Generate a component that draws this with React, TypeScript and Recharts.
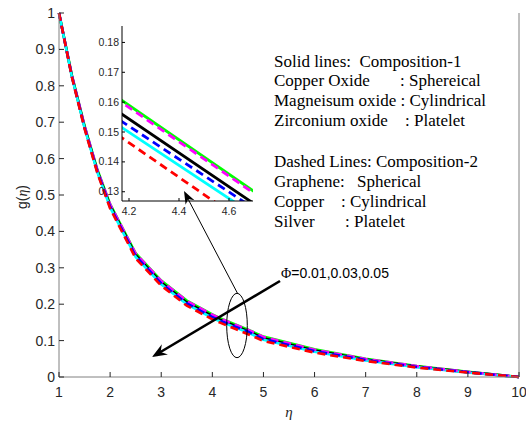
import React from 'react';
import { LineChart, Line, XAxis, YAxis } from 'recharts';

// ---- data ----
const eta = [1, 1.25, 1.5, 1.75, 2, 2.5, 3, 3.5, 4, 4.15, 4.7, 5, 6, 7, 8, 9, 10];
const gGreen = [1, 0.83, 0.69, 0.57, 0.475, 0.34, 0.265, 0.21, 0.172, 0.1618, 0.1301, 0.111, 0.076, 0.05, 0.03, 0.014, 0];
const gMagenta = [1, 0.83, 0.69, 0.569, 0.474, 0.339, 0.264, 0.209, 0.171, 0.1611, 0.1295, 0.11, 0.075, 0.0495, 0.0298, 0.0139, 0];
const gBlack = [1, 0.828, 0.687, 0.566, 0.4706, 0.3348, 0.2598, 0.2048, 0.167, 0.1572, 0.126, 0.1066, 0.0727, 0.0478, 0.0285, 0.0133, 0];
const gBlue = [1, 0.827, 0.685, 0.564, 0.468, 0.332, 0.257, 0.202, 0.1643, 0.1547, 0.1244, 0.1042, 0.0709, 0.0466, 0.0277, 0.0129, 0];
const gCyan = [1, 0.826, 0.684, 0.563, 0.466, 0.33, 0.255, 0.2, 0.1621, 0.1527, 0.1222, 0.1022, 0.0694, 0.0456, 0.0271, 0.0125, 0];
const gRed = [1, 0.825, 0.682, 0.56, 0.463, 0.326, 0.251, 0.196, 0.1585, 0.1493, 0.1175, 0.099, 0.067, 0.044, 0.026, 0.012, 0];

const xTicks = [1, 2, 3, 4, 5, 6, 7, 8, 9, 10];
const yTicks = [0, 0.1, 0.2, 0.3, 0.4, 0.5, 0.6, 0.7, 0.8, 0.9, 1];
const insetXTicks = [4.2, 4.4, 4.6];
const insetYTicks = [0.13, 0.14, 0.15, 0.16, 0.17, 0.18];
const mainXDomain = [1, 10];
const mainYDomain = [0, 1];
const insetXDomain = [4.172, 4.696];
const insetYDomain = [0.1269, 0.1855];

const legendSolid = ['Solid lines:  Composition-1'];
const phiLabel = '=0.01,0.03,0.05';

const data = eta.map((x, i) => ({
  x,
  green: gGreen[i],
  magenta: gMagenta[i],
  black: gBlack[i],
  blue: gBlue[i],
  cyan: gCyan[i],
  red: gRed[i],
}));

const series = [
  { key: 'green', color: '#00ff00', dash: undefined as string | undefined },
  { key: 'black', color: '#000000', dash: undefined },
  { key: 'cyan', color: '#00ffff', dash: undefined },
  { key: 'magenta', color: '#ff00ff', dash: '8 5' },
  { key: 'blue', color: '#0000ff', dash: '8 5' },
  { key: 'red', color: '#ff0000', dash: '8 5' },
];

const SANS = '"Liberation Sans", Arial, sans-serif';
const SERIF = '"Liberation Serif", "Times New Roman", serif';
const TXT = '#262626';

// ---- tick renderers (inward ticks, MATLAB style) ----
const mkBottom = (len: number, fs: number, dy: number, col: string) => (p: any) => (
  <g>
    <line x1={p.x} y1={p.y} x2={p.x} y2={p.y - len} stroke={col} strokeWidth={1} />
    <text x={p.x} y={p.y + dy} textAnchor="middle" fontSize={fs} fill={TXT} fontFamily={SANS}>
      {p.payload.value}
    </text>
  </g>
);
const mkLeft = (len: number, fs: number, dx: number, dy: number, col: string) => (p: any) => (
  <g>
    <line x1={p.x} y1={p.y} x2={p.x + len} y2={p.y} stroke={col} strokeWidth={1} />
    <text x={p.x - dx} y={p.y + dy} textAnchor="end" fontSize={fs} fill={TXT} fontFamily={SANS}>
      {p.payload.value}
    </text>
  </g>
);
const mkTop = (len: number, col: string) => (p: any) => (
  <line x1={p.x} y1={p.y} x2={p.x} y2={p.y + len} stroke={col} strokeWidth={1} />
);
const mkRight = (len: number, col: string) => (p: any) => (
  <line x1={p.x} y1={p.y} x2={p.x - len} y2={p.y} stroke={col} strokeWidth={1} />
);

function arrowHead(tipX: number, tipY: number, fromX: number, fromY: number, len: number, half: number, notch: number) {
  const dx = tipX - fromX;
  const dy = tipY - fromY;
  const L = Math.sqrt(dx * dx + dy * dy);
  const ux = dx / L, uy = dy / L;
  const nx = -uy, ny = ux;
  const bx = tipX - ux * len, by = tipY - uy * len;
  const mx = tipX - ux * notch, my = tipY - uy * notch;
  return `${tipX},${tipY} ${bx + nx * half},${by + ny * half} ${mx},${my} ${bx - nx * half},${by - ny * half}`;
}

export default function App() {
  const gray = '#808080';
  return (
    <div style={{ position: 'absolute', left: 0, top: 0, width: 526, height: 425, background: '#fff' }}>
      {/* main chart */}
      <div style={{ position: 'absolute', left: 0, top: 0 }}>
        <LineChart width={526} height={425} data={data} margin={{ top: 13, right: 0, bottom: 0, left: 0 }}>
          <XAxis
            xAxisId="b" dataKey="x" type="number" domain={mainXDomain} ticks={xTicks} interval={0}
            height={48} tickSize={0} tickMargin={0} axisLine={{ stroke: gray }} tickLine={false}
            tick={mkBottom(5, 14, 20, TXT)}
          />
          <XAxis
            xAxisId="t" orientation="top" dataKey="x" type="number" domain={mainXDomain} ticks={xTicks} interval={0}
            height={0} tickSize={0} tickMargin={0} axisLine={{ stroke: '#333' }} tickLine={false}
            tick={mkTop(5, TXT)}
          />
          <YAxis
            yAxisId="l" type="number" domain={mainYDomain} ticks={yTicks} interval={0}
            width={59} tickSize={0} tickMargin={0} axisLine={{ stroke: gray }} tickLine={false}
            tick={mkLeft(5, 14, 4, 5, TXT)}
          />
          <YAxis
            yAxisId="r" orientation="right" type="number" domain={mainYDomain} ticks={yTicks} interval={0}
            width={7} tickSize={0} tickMargin={0} axisLine={{ stroke: gray }} tickLine={false}
            tick={mkRight(5, TXT)}
          />
          {series.map((s) => (
            <Line
              key={s.key} xAxisId="b" yAxisId="l" dataKey={s.key} type="linear" stroke={s.color}
              strokeWidth={2.6} strokeDasharray={s.dash} dot={false} isAnimationActive={false}
            />
          ))}
        </LineChart>
      </div>

      {/* inset */}
      <div style={{ position: 'absolute', left: 92, top: 20 }}>
        <LineChart width={166} height={205} data={data} margin={{ top: 6, right: 5, bottom: 0, left: 0 }}>
          <XAxis
            xAxisId="b" dataKey="x" type="number" domain={insetXDomain} allowDataOverflow ticks={insetXTicks} interval={0}
            height={24} tickSize={0} tickMargin={0} axisLine={{ stroke: '#000' }} tickLine={false}
            tick={mkBottom(3, 10.5, 14, '#000')}
          />
          <XAxis
            xAxisId="t" orientation="top" dataKey="x" type="number" domain={insetXDomain} allowDataOverflow ticks={insetXTicks} interval={0}
            height={0} tickSize={0} tickMargin={0} axisLine={{ stroke: '#000' }} tickLine={false}
            tick={mkTop(3, '#000')}
          />
          <YAxis
            yAxisId="l" type="number" domain={insetYDomain} allowDataOverflow ticks={insetYTicks} interval={0}
            width={30} tickSize={0} tickMargin={0} axisLine={{ stroke: '#000' }} tickLine={false}
            tick={mkLeft(3, 10.5, 3, 3.5, '#000')}
          />
          <YAxis
            yAxisId="r" orientation="right" type="number" domain={insetYDomain} allowDataOverflow ticks={insetYTicks} interval={0}
            width={0} tickSize={0} tickMargin={0} axisLine={{ stroke: '#000' }} tickLine={false}
            tick={mkRight(3, '#000')}
          />
          {series.map((s) => (
            <Line
              key={s.key} xAxisId="b" yAxisId="l" dataKey={s.key} type="linear" stroke={s.color}
              strokeWidth={2.8} strokeDasharray={s.dash} dot={false} isAnimationActive={false}
            />
          ))}
        </LineChart>
      </div>

      {/* annotations */}
      <svg width={526} height={425} style={{ position: 'absolute', left: 0, top: 0, pointerEvents: 'none' }}>
        <g fontFamily={SERIF} fontSize={17} fill="#000">
          <text x={274} y={66.5} style={{ whiteSpace: 'pre' }}>{legendSolid[0]}</text>
          <text x={274} y={86}>Copper Oxide</text>
          <text x={400} y={86}>: Sphereical</text>
          <text x={274} y={106} style={{ whiteSpace: 'pre' }}>Magneisum oxide : Cylindrical</text>
          <text x={274} y={126}>Zirconium oxide</text>
          <text x={405} y={126}>: Platelet</text>
          <text x={274} y={166.5}>Dashed Lines: Composition-2</text>
          <text x={274} y={186.5}>Graphene:</text>
          <text x={357} y={186.5}>Spherical</text>
          <text x={274} y={206.5}>Copper</text>
          <text x={341} y={206.5}>: Cylindrical</text>
          <text x={274} y={226.5}>Silver</text>
          <text x={345} y={226.5}>: Platelet</text>
        </g>
        <text x={281} y={278} fontSize={14} fill="#000" fontFamily={SANS}>
          <tspan fontFamily={SERIF}>Φ</tspan>{phiLabel}
        </text>
        {/* thick arrow */}
        <line x1={280} y1={281} x2={158} y2={353.5} stroke="#000" strokeWidth={2.6} />
        <polygon points={arrowHead(152, 357, 280, 281, 15, 6, 10)} fill="#000" />
        {/* ellipse */}
        <ellipse cx={237} cy={325.5} rx={10.3} ry={32.2} fill="none" stroke="#000" strokeWidth={1} />
        {/* thin arrow to inset */}
        <line x1={237.5} y1={293.3} x2={187} y2={197} stroke="#000" strokeWidth={1} />
        <polygon points={arrowHead(184, 191, 237.5, 293.3, 13, 5, 9)} fill="#000" />
        {/* axis labels */}
        <text x={289} y={417} textAnchor="middle" fontSize={15} fontStyle="italic" fontFamily={SERIF} fill={TXT}>η</text>
        <text x={27} y={197} transform="rotate(-90, 27, 197)" textAnchor="middle" fontSize={14} fontFamily={SANS} fill={TXT}>
          g(<tspan fontFamily={SERIF} fontStyle="italic">η</tspan>)
        </text>
      </svg>
    </div>
  );
}
